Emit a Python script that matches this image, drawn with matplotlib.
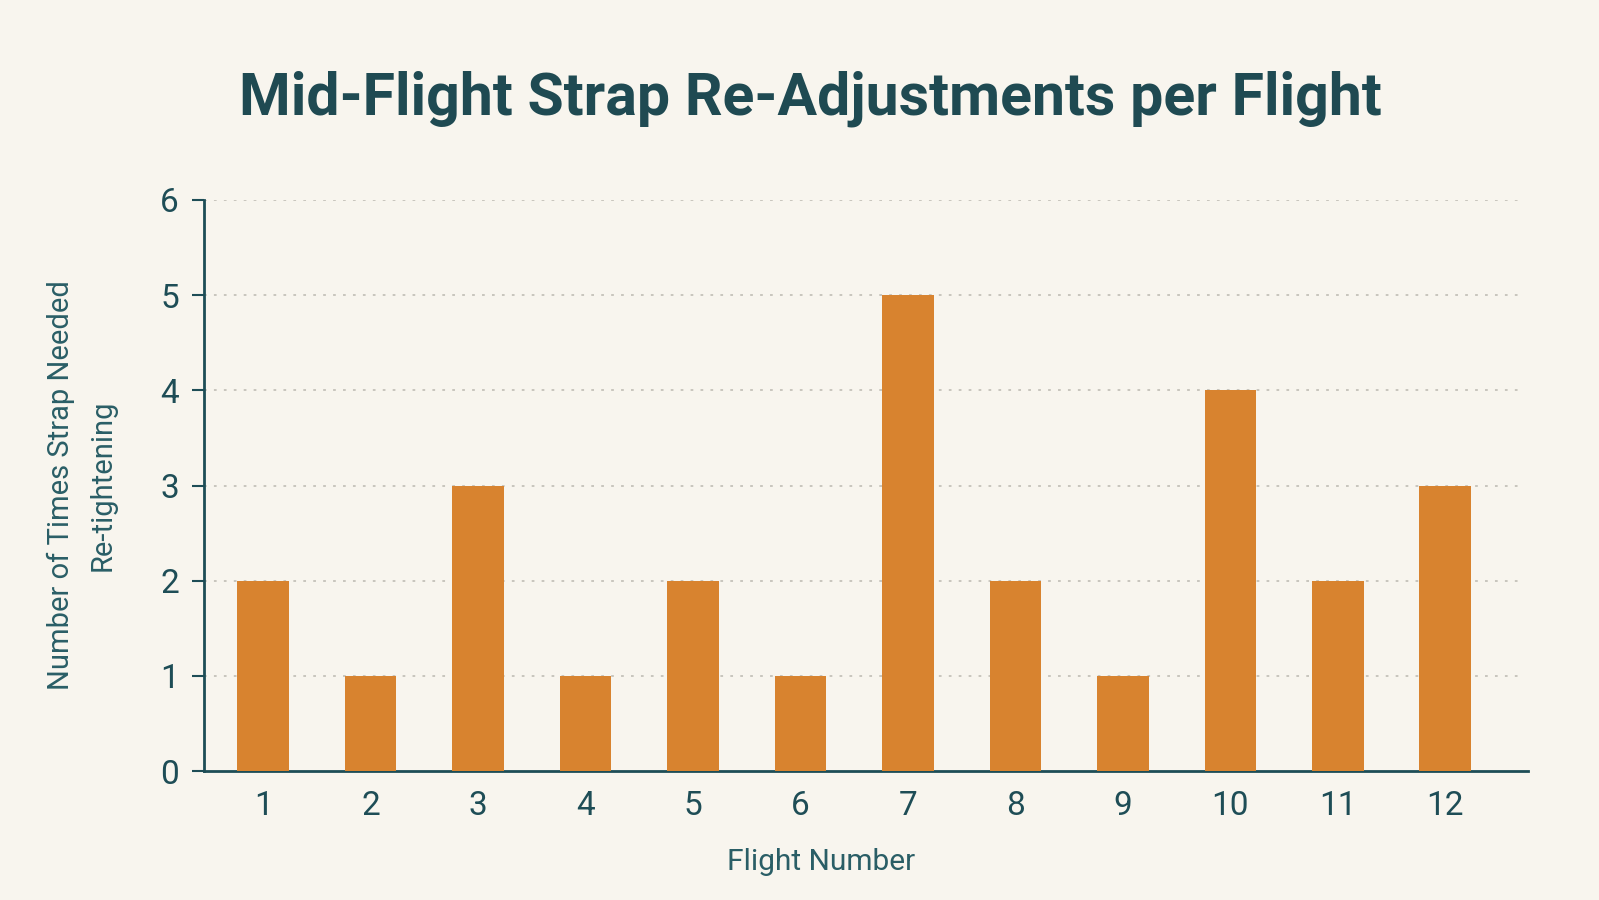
import matplotlib.pyplot as plt

flights = [1, 2, 3, 4, 5, 6, 7, 8, 9, 10, 11, 12]
adjustments = [2, 1, 3, 1, 2, 1, 5, 2, 1, 4, 2, 3]
y_ticks = [0, 1, 2, 3, 4, 5, 6]

bg = '#F8F5EE'
teal = '#1E4D56'
bar_color = '#D8832F'
fam = ['Roboto', 'DejaVu Sans']

fig = plt.figure(figsize=(15.99, 9), dpi=100, facecolor=bg)
ax = fig.add_axes([204 / 1599, 1 - 771 / 900, (1528 - 204) / 1599, (771 - 200) / 900])
ax.set_facecolor(bg)

ax.bar(flights, adjustments, width=0.48, color=bar_color, zorder=3)

ax.set_xlim(0.45, 12.77)
ax.set_ylim(0, 6)
ax.set_xticks(flights)
ax.set_yticks(y_ticks)
ax.tick_params(axis='x', length=0, pad=14, labelsize=24, labelcolor=teal)
ax.tick_params(axis='y', length=9, width=1.5, color=teal, pad=9, labelsize=24, labelcolor=teal)
for lab in ax.get_xticklabels() + ax.get_yticklabels():
    lab.set_family(fam)

# dotted grid, stops just before right edge
for v in y_ticks[1:]:
    ax.plot([0.45, 12.72], [v, v], color='#C4C1B9', lw=1.3, ls=(0, (1.5, 4)), zorder=1)

for s in ['top', 'right']:
    ax.spines[s].set_visible(False)
for s in ['left', 'bottom']:
    ax.spines[s].set_color(teal)
    ax.spines[s].set_linewidth(2)

ax.set_xlabel('Flight Number', fontsize=21.5, color='#2A5E66', family=fam)
ax.xaxis.set_label_coords(0.466, -0.135)
ax.set_ylabel('Number of Times Strap Needed\nRe-tightening', fontsize=21, color='#2A5E66',
              family=fam, linespacing=1.6)
ax.yaxis.set_label_coords(-0.066, 0.5)

fig.text(0.507, 1 - 99 / 900, 'Mid-Flight Strap Re-Adjustments per Flight', ha='center', va='center',
         fontsize=42.5, fontweight='bold', color='#1F4A52', family=fam)

fig.savefig('out.png', dpi=100, facecolor=bg)
